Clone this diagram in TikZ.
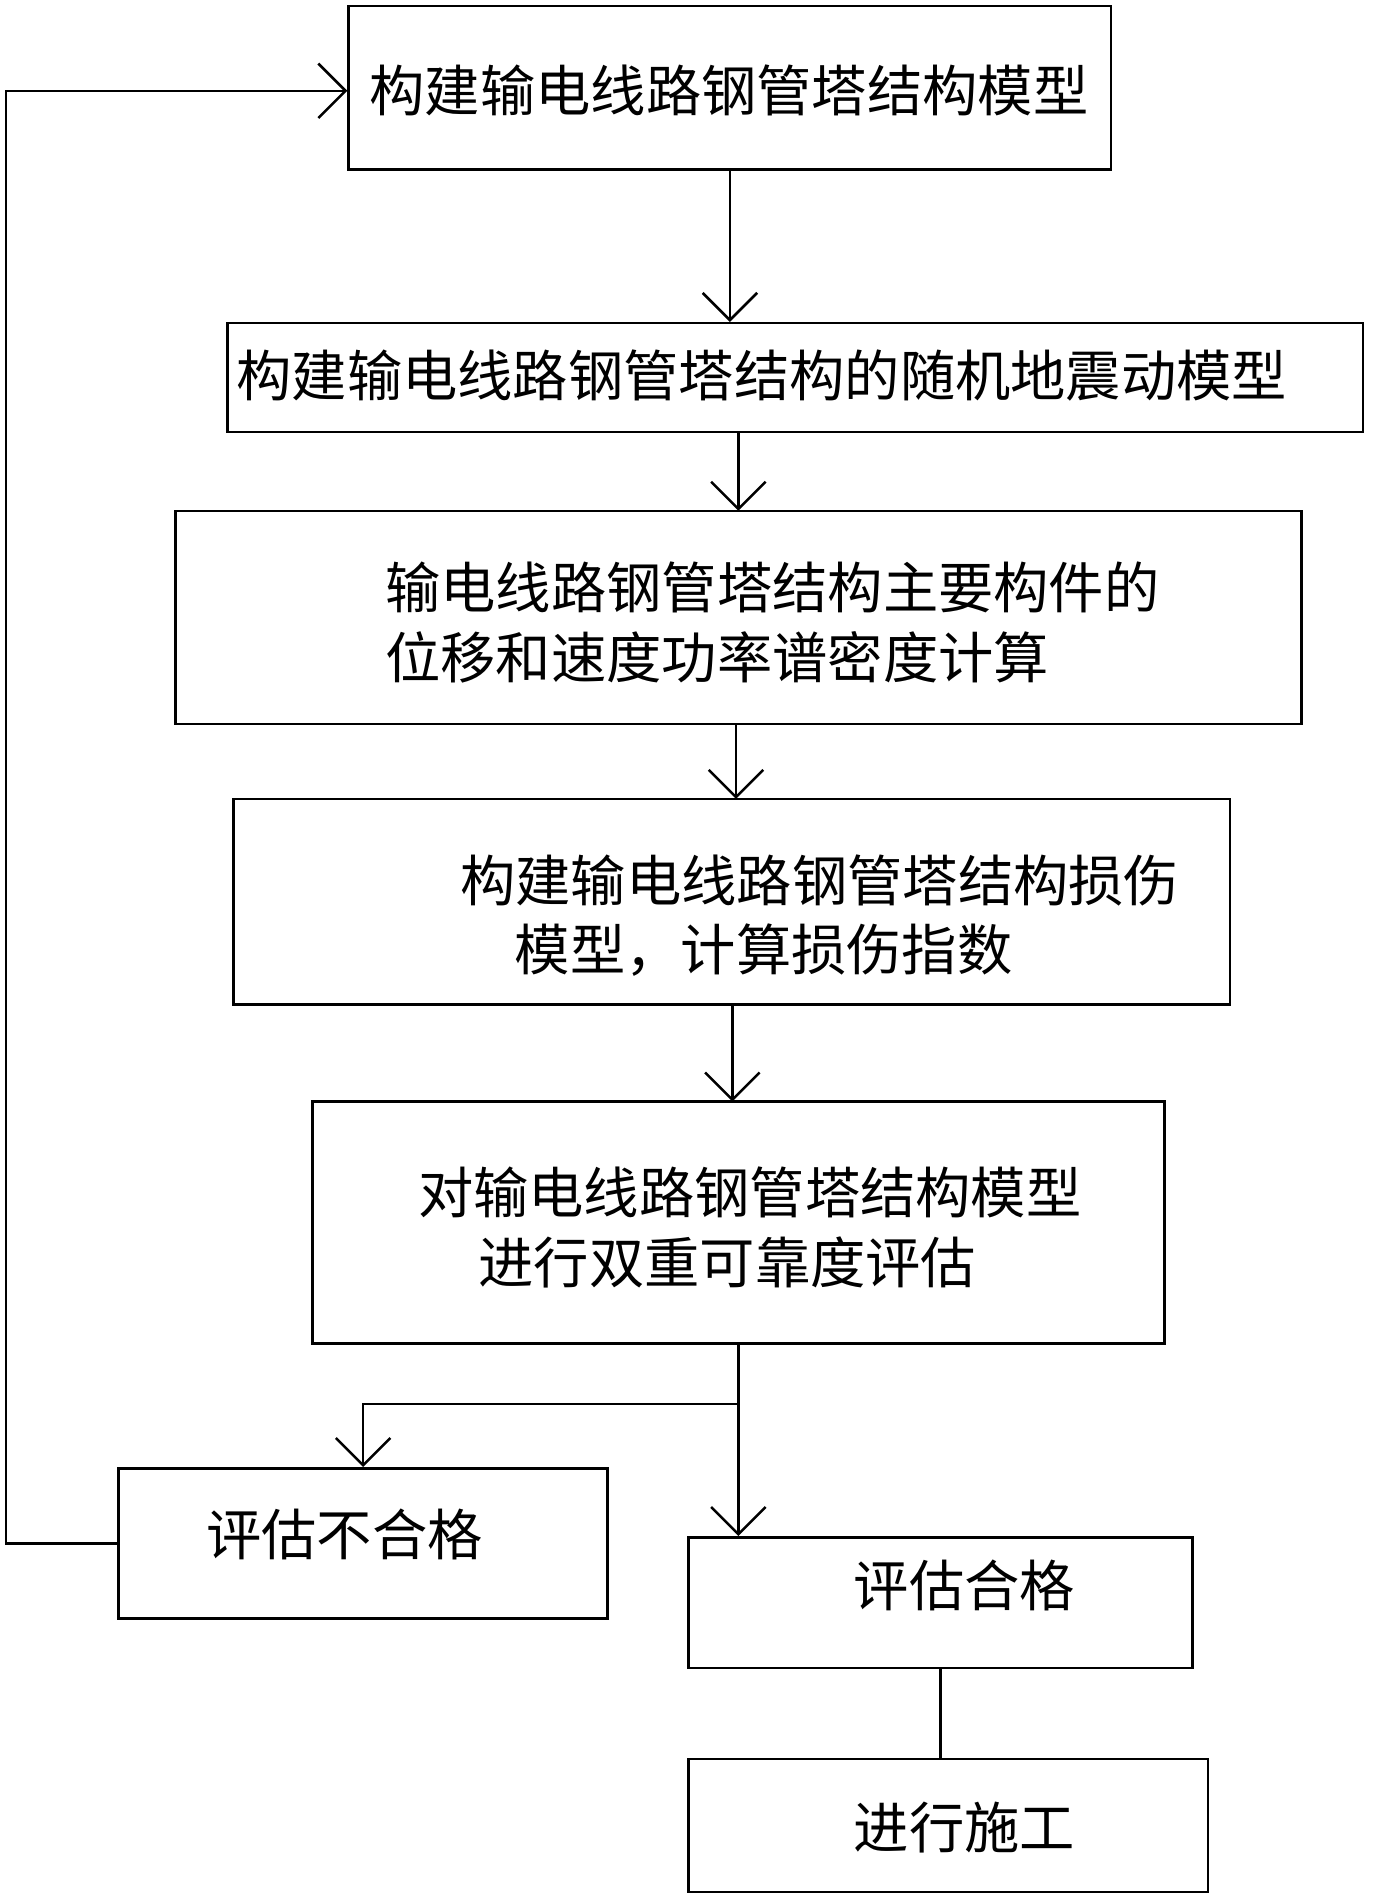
\documentclass[tikz,border=0pt]{standalone}
\usepackage{fontspec}
\newfontfamily\cjk{Noto Sans CJK SC}
\usetikzlibrary{arrows.meta}
\tikzset{
  box/.style={draw,line width=1.2pt,rectangle,inner sep=0pt},
  txt/.style={anchor=west,inner sep=0pt,font=\cjk\fontsize{26}{33}\selectfont,align=left},
  flow/.style={line width=1.2pt,-{Straight Barb[length=0.45cm,width=0.9cm,line width=1.2pt]}}
}
\begin{document}
\begin{tikzpicture}[x=0.02cm,y=-0.02cm]
\useasboundingbox (0,0) rectangle (1134,1568);

% boxes
\node[box,minimum width=630*0.02cm,minimum height=135*0.02cm] (b1) at (603,72.5) {};
\node[box,minimum width=938*0.02cm,minimum height=90*0.02cm] (b2) at (657,312) {};
\node[box,minimum width=930*0.02cm,minimum height=176*0.02cm] (b3) at (610,510) {};
\node[box,minimum width=823*0.02cm,minimum height=170*0.02cm] (b4) at (604.5,745) {};
\node[box,minimum width=704*0.02cm,minimum height=200*0.02cm] (b5) at (610,1010) {};
\node[box,minimum width=404*0.02cm,minimum height=124*0.02cm] (b6) at (300,1275) {};
\node[box,minimum width=416*0.02cm,minimum height=108*0.02cm] (b7) at (777,1324) {};
\node[box,minimum width=429*0.02cm,minimum height=110*0.02cm] (b8) at (783.5,1508) {};

% texts
\node[txt] (t1) at (305,75) {构建输电线路钢管塔结构模型};
\node[txt] (t2) at (195,310) {构建输电线路钢管塔结构的随机地震动模型};
\node[txt] (t3) at (318,514) {输电线路钢管塔结构主要构件的\\位移和速度功率谱密度计算};
\node[txt] (t4a) at (380,727) {构建输电线路钢管塔结构损伤};
\node[txt] (t4b) at (425,785) {模型，计算损伤指数};
\node[txt] (t5a) at (345,985) {对输电线路钢管塔结构模型};
\node[txt] (t5b) at (395,1043) {进行双重可靠度评估};
\node[txt] (t6) at (170,1268) {评估不合格};
\node[txt] (t7) at (705,1310) {评估合格};
\node[txt] (t8) at (705,1510) {进行施工};

% connectors
\coordinate (split) at (610,1160);
\draw[flow] (b1.south) -- (b1.south|-b2.north);
\draw[flow] (610,357) -- (610,422);
\draw[flow] (608,598) -- (608,660);
\draw[flow] (605,830) -- (605,910);
\draw[flow] (split|-b5.south) -- (split) -- (split|-b7.north);
\draw[flow] (split) -- (300,1160) -- (b6.north);
\draw[flow] (b6.west) -- (5,1275) -- (5,75) -- (b1.west|-0,75);
\draw[line width=1.2pt] (b7.south|-b7.south) -- (b7.south|-b8.north);

\end{tikzpicture}
\end{document}
